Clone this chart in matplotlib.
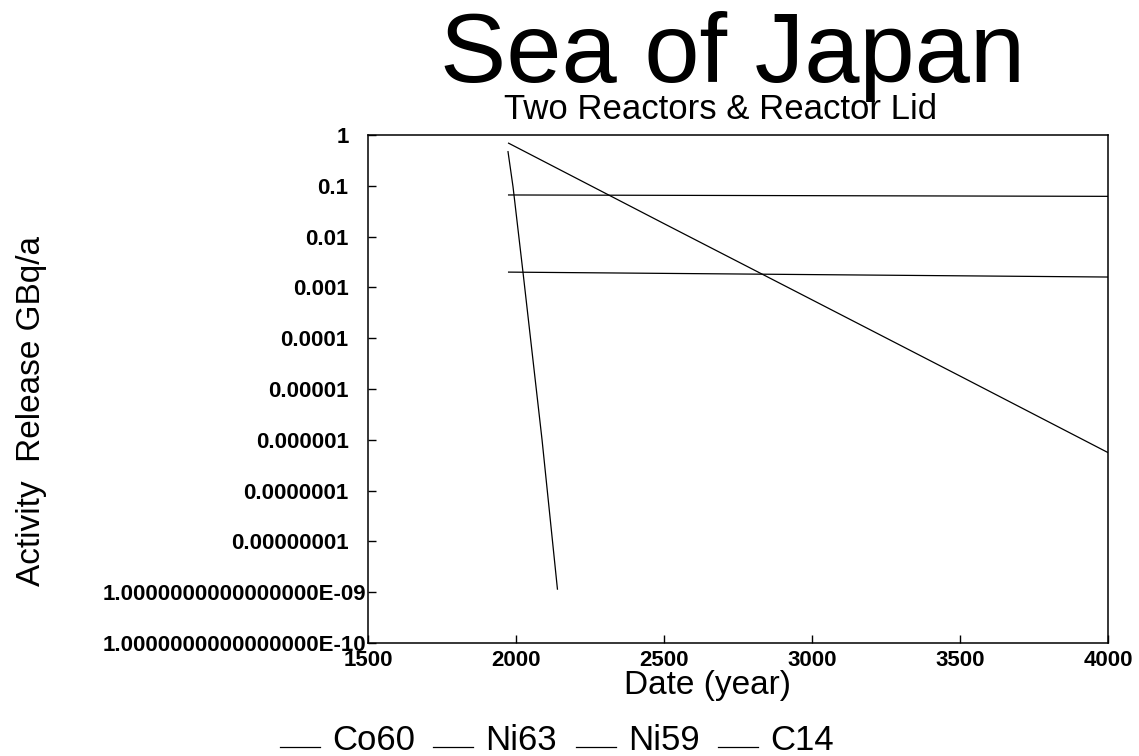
import matplotlib
matplotlib.use("Agg")
import matplotlib.pyplot as plt
from matplotlib.legend_handler import HandlerLine2D

plt.rcParams['font.family'] = ['Liberation Sans', 'DejaVu Sans']

# release curves (GBq/a)
co60_years = [1973, 1990, 2024, 2088, 2140]
co60_vals = [0.47, 0.095, 0.0019, 1.0e-6, 1.15e-9]

ni63_years = [1975, 2500, 3000, 3500, 4000]
ni63_vals = [0.69, 0.018, 5.7e-4, 1.8e-5, 5.6e-7]

ni59_years = [1975, 4000]
ni59_vals = [0.066, 0.062]

c14_years = [1975, 4000]
c14_vals = [0.0020, 0.0016]

ytick_vals = [1e-10, 1e-9, 1e-8, 1e-7, 1e-6, 1e-5, 1e-4, 1e-3, 1e-2, 1e-1, 1]
ytick_labels = ["1.0000000000000000E-10", "1.0000000000000000E-09",
                "0.00000001", "0.0000001", "0.000001", "0.00001",
                "0.0001", "0.001", "0.01", "0.1", "1"]
xtick_vals = [1500, 2000, 2500, 3000, 3500, 4000]


class UnderscoreHandler(HandlerLine2D):
    # legend line sits on the text baseline, like an underscore
    def create_artists(self, legend, orig_handle, xdescent, ydescent,
                       width, height, fontsize, trans):
        arts = super().create_artists(legend, orig_handle, xdescent, ydescent,
                                      width, height, fontsize, trans)
        for a in arts:
            a.set_ydata([1.5] * len(a.get_xdata()))
        return arts


W, H = 1139, 756
fig = plt.figure(figsize=(W / 100, H / 100), dpi=100)
ax = fig.add_axes([368 / W, 1 - 643 / H, 740 / W, 508 / H])

lw = 0.9
ax.plot(co60_years, co60_vals, color="black", lw=lw, label="Co60")
ax.plot(ni63_years, ni63_vals, color="black", lw=lw, label="Ni63")
ax.plot(ni59_years, ni59_vals, color="black", lw=lw, label="Ni59")
ax.plot(c14_years, c14_vals, color="black", lw=lw, label="C14")

ax.set_yscale("log")
ax.set_ylim(1e-10, 1)
ax.set_xlim(1500, 4000)
ax.set_yticks(ytick_vals)
ax.set_yticklabels(ytick_labels, fontweight="bold")
ax.minorticks_off()
ax.set_xticks(xtick_vals)
ax.set_xticklabels([str(v) for v in xtick_vals], fontweight="bold")

ax.tick_params(axis="y", direction="in", length=6, width=1, pad=14, labelsize=16)
ax.tick_params(axis="x", direction="in", length=6, width=1, pad=5, labelsize=16)
for s in ax.spines.values():
    s.set_linewidth(1.1)

# the long E-notation labels run right up to the axis in the original
for lbl in ax.get_yticklabels():
    if "E" in lbl.get_text():
        lbl.set_x(18 / 740)

ax.set_xlabel("Date (year)", fontsize=24, va="top")
ax.xaxis.set_label_coords((707 - 368) / 740, (643 - 670) / 508)

fig.text(32 / W, 1 - 411 / H, "Activity  Release GBq/a", rotation=90,
         ha="center", va="center", fontsize=24)

fig.text(733 / W, 1 - 82 / H, "Sea of Japan", ha="center", va="baseline",
         fontsize=71.5)
fig.text(721 / W, 1 - 119 / H, "Two Reactors & Reactor Lid", ha="center",
         va="baseline", fontsize=25)

ax.legend(loc="center left", bbox_to_anchor=(280 / W, 1 - 740 / H),
          bbox_transform=fig.transFigure, ncol=4, frameon=False,
          fontsize=25, handlelength=1.15, handletextpad=0.35,
          columnspacing=0.53, borderpad=0, borderaxespad=0,
          handler_map={plt.Line2D: UnderscoreHandler()})

fig.savefig("out.png", dpi=100)
